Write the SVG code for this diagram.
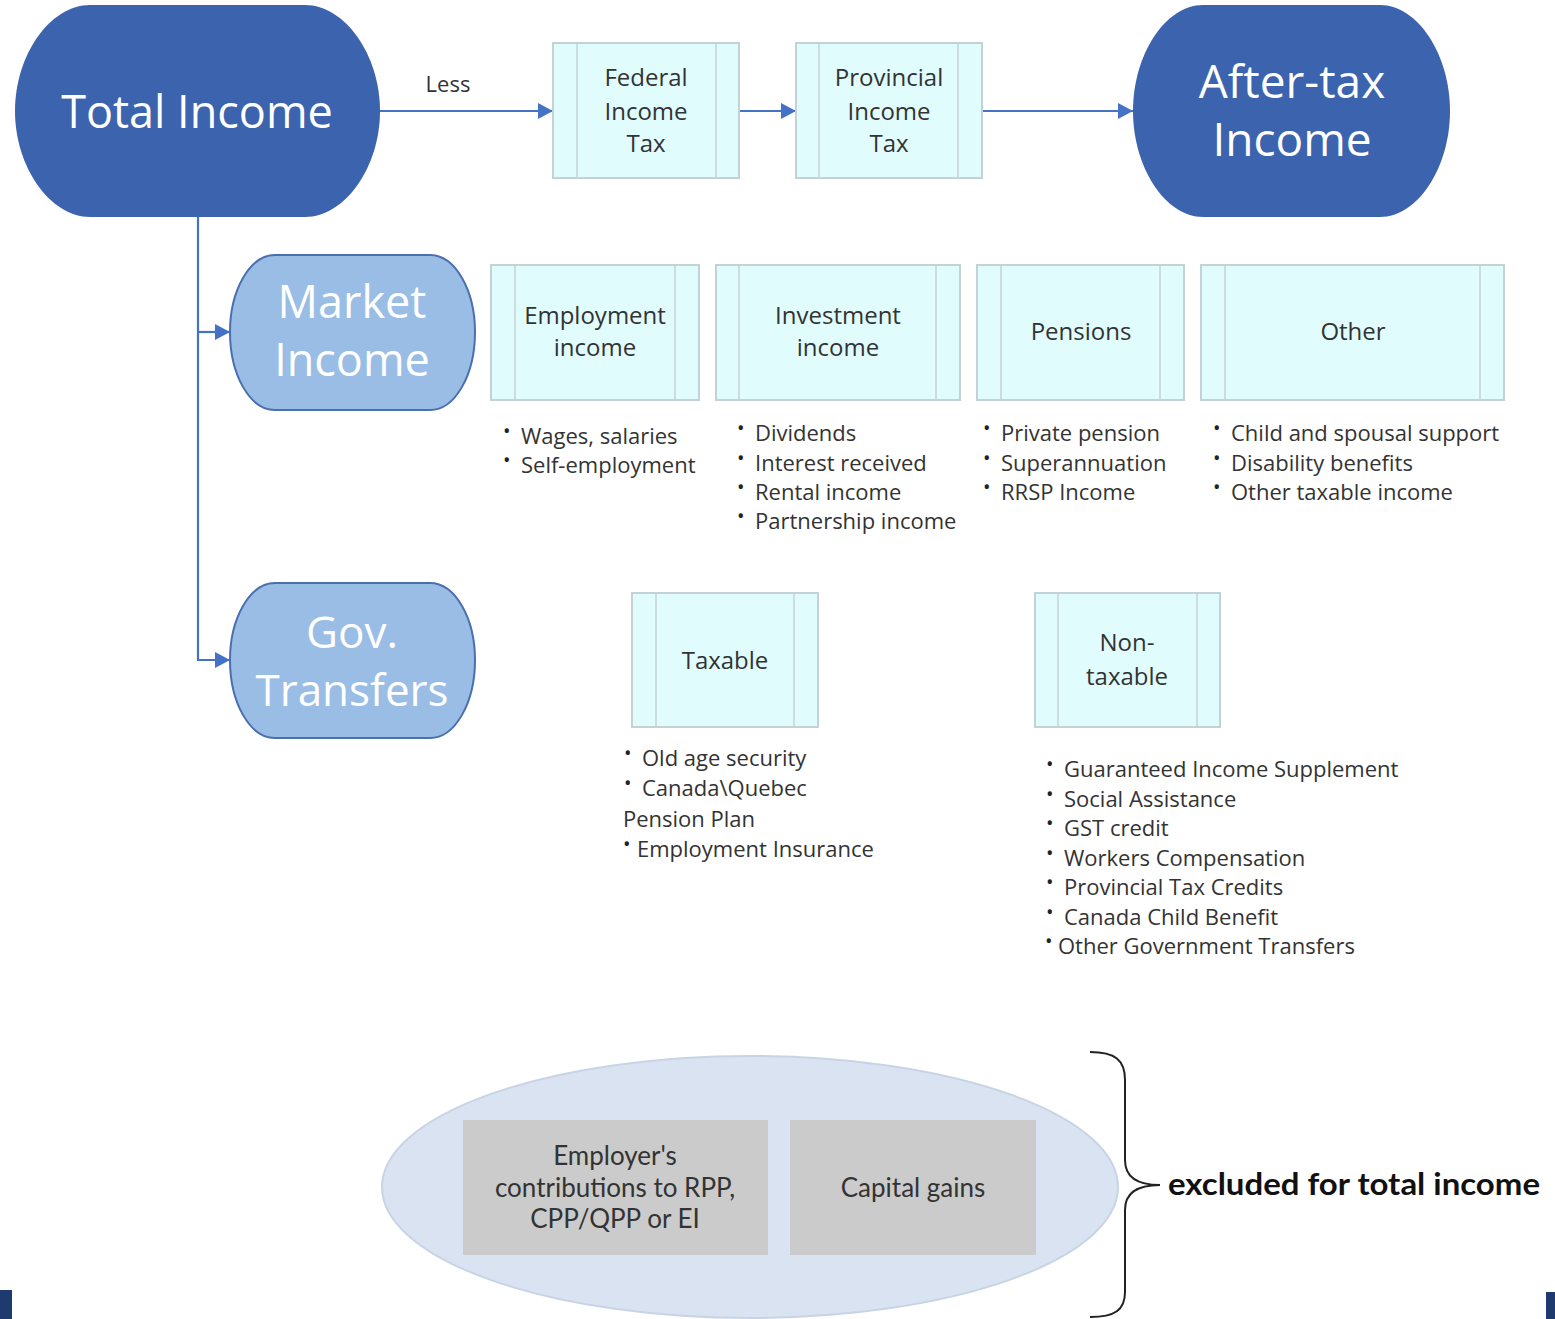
<svg xmlns="http://www.w3.org/2000/svg" width="1555" height="1319" viewBox="0 0 1555 1319">
<style>
.dark{fill:#3c63ad}
.light{fill:#9abde5;stroke:#4a6faf;stroke-width:2}
.big{font-family:"Open Sans","Noto Sans",sans-serif;fill:#fff;text-anchor:middle}
.box rect{fill:#e1fcfd;stroke:#c4d2d5;stroke-width:2}
.box line{stroke:#c4d2d5;stroke-width:1.5}
.bt{font-family:"Open Sans","Noto Sans",sans-serif;font-size:24px;fill:#333;text-anchor:middle}
.li{font-family:"Open Sans","Noto Sans",sans-serif;font-size:22px;fill:#333}
.b{font-size:20px;fill:#222}
.conn{stroke:#4472c4;stroke-width:2.2;fill:none}
.grey rect{fill:#cbcbcb}
.gt{font-family:Lato,"Liberation Sans",sans-serif;font-size:26px;fill:#333;text-anchor:middle}
</style>
<defs>
<marker id="ah" markerUnits="userSpaceOnUse" markerWidth="15" markerHeight="16" refX="15" refY="8" orient="auto">
<path d="M0,0 L15,8 L0,16 Z" fill="#4472c4"/>
</marker>
</defs>
<rect width="1555" height="1319" fill="#fff"/>

<g id="connectors">
<path class="conn" d="M380,111 H553" marker-end="url(#ah)"/>
<path class="conn" d="M739,111 H796" marker-end="url(#ah)"/>
<path class="conn" d="M982,111 H1133" marker-end="url(#ah)"/>
<path class="conn" d="M198,217 V660 H230" marker-end="url(#ah)"/>
<path class="conn" d="M198,332 H230" marker-end="url(#ah)"/>
<text class="li" x="448" y="92" text-anchor="middle">Less</text>
</g>

<g id="total-income">
<path class="dark" d="M90,5 H305 C345,5 380,55 380,111 C380,167 345,217 305,217 H90 C50,217 15,167 15,111 C15,55 50,5 90,5 Z"/>
<text class="big" x="197" y="128" font-size="45">Total Income</text>
</g>

<g id="federal" class="box">
<rect x="553" y="43" width="186" height="135"/>
<line x1="577" y1="43" x2="577" y2="178"/><line x1="716" y1="43" x2="716" y2="178"/>
<text class="bt" x="646" y="86">Federal</text>
<text class="bt" x="646" y="120">Income</text>
<text class="bt" x="646" y="152">Tax</text>
</g>

<g id="provincial" class="box">
<rect x="796" y="43" width="186" height="135"/>
<line x1="819" y1="43" x2="819" y2="178"/><line x1="958" y1="43" x2="958" y2="178"/>
<text class="bt" x="889" y="86">Provincial</text>
<text class="bt" x="889" y="120">Income</text>
<text class="bt" x="889" y="152">Tax</text>
</g>

<g id="after-tax">
<path class="dark" d="M1203,5 H1380 C1418,5 1450,55 1450,111 C1450,167 1418,217 1380,217 H1203 C1165,217 1133,167 1133,111 C1133,55 1165,5 1203,5 Z"/>
<text class="big" x="1292" y="98" font-size="46">After-tax</text>
<text class="big" x="1292" y="156" font-size="46">Income</text>
</g>

<g id="market-income">
<path class="light" d="M275,255 H430 C455,255 475,290 475,332 C475,375 455,410 430,410 H275 C250,410 230,375 230,332 C230,290 250,255 275,255 Z"/>
<text class="big" x="352" y="318" font-size="45">Market</text>
<text class="big" x="352" y="376" font-size="45">Income</text>
</g>

<g id="employment" class="box">
<rect x="491" y="265" width="208" height="135"/>
<line x1="515" y1="265" x2="515" y2="400"/><line x1="675" y1="265" x2="675" y2="400"/>
<text class="bt" x="595" y="324">Employment</text>
<text class="bt" x="595" y="356">income</text>
</g>
<g id="employment-list">
<text class="li"><tspan class="b" x="503" y="438">•</tspan><tspan x="521" y="444">Wages, salaries</tspan></text>
<text class="li"><tspan class="b" x="503" y="467">•</tspan><tspan x="521" y="473">Self-employment</tspan></text>
</g>

<g id="investment" class="box">
<rect x="716" y="265" width="244" height="135"/>
<line x1="739" y1="265" x2="739" y2="400"/><line x1="936" y1="265" x2="936" y2="400"/>
<text class="bt" x="838" y="324">Investment</text>
<text class="bt" x="838" y="356">income</text>
</g>
<g id="investment-list">
<text class="li"><tspan class="b" x="737" y="435">•</tspan><tspan x="755" y="441">Dividends</tspan></text>
<text class="li"><tspan class="b" x="737" y="465">•</tspan><tspan x="755" y="471">Interest received</tspan></text>
<text class="li"><tspan class="b" x="737" y="494">•</tspan><tspan x="755" y="500">Rental income</tspan></text>
<text class="li"><tspan class="b" x="737" y="523">•</tspan><tspan x="755" y="529">Partnership income</tspan></text>
</g>

<g id="pensions" class="box">
<rect x="977" y="265" width="207" height="135"/>
<line x1="1001" y1="265" x2="1001" y2="400"/><line x1="1160" y1="265" x2="1160" y2="400"/>
<text class="bt" x="1081" y="340">Pensions</text>
</g>
<g id="pensions-list">
<text class="li"><tspan class="b" x="983" y="435">•</tspan><tspan x="1001" y="441">Private pension</tspan></text>
<text class="li"><tspan class="b" x="983" y="465">•</tspan><tspan x="1001" y="471">Superannuation</tspan></text>
<text class="li"><tspan class="b" x="983" y="494">•</tspan><tspan x="1001" y="500">RRSP Income</tspan></text>
</g>

<g id="other" class="box">
<rect x="1201" y="265" width="303" height="135"/>
<line x1="1225" y1="265" x2="1225" y2="400"/><line x1="1480" y1="265" x2="1480" y2="400"/>
<text class="bt" x="1353" y="340">Other</text>
</g>
<g id="other-list">
<text class="li"><tspan class="b" x="1213" y="435">•</tspan><tspan x="1231" y="441">Child and spousal support</tspan></text>
<text class="li"><tspan class="b" x="1213" y="465">•</tspan><tspan x="1231" y="471">Disability benefits</tspan></text>
<text class="li"><tspan class="b" x="1213" y="494">•</tspan><tspan x="1231" y="500">Other taxable income</tspan></text>
</g>

<g id="gov-transfers">
<path class="light" d="M275,583 H430 C455,583 475,618 475,660 C475,703 455,738 430,738 H275 C250,738 230,703 230,660 C230,618 250,583 275,583 Z"/>
<text class="big" x="352" y="648" font-size="44">Gov.</text>
<text class="big" x="352" y="706" font-size="44">Transfers</text>
</g>

<g id="taxable" class="box">
<rect x="632" y="593" width="186" height="134"/>
<line x1="656" y1="593" x2="656" y2="727"/><line x1="794" y1="593" x2="794" y2="727"/>
<text class="bt" x="725" y="669">Taxable</text>
</g>
<g id="taxable-list">
<text class="li"><tspan class="b" x="624" y="760">•</tspan><tspan x="642" y="766">Old age security</tspan></text>
<text class="li"><tspan class="b" x="624" y="790">•</tspan><tspan x="642" y="796">Canada\Quebec</tspan></text>
<text class="li" x="623" y="827">Pension Plan</text>
<text class="li"><tspan class="b" x="623" y="851">•</tspan><tspan x="637" y="857">Employment Insurance</tspan></text>
</g>

<g id="non-taxable" class="box">
<rect x="1035" y="593" width="185" height="134"/>
<line x1="1058" y1="593" x2="1058" y2="727"/><line x1="1197" y1="593" x2="1197" y2="727"/>
<text class="bt" x="1127" y="651">Non-</text>
<text class="bt" x="1127" y="685">taxable</text>
</g>
<g id="non-taxable-list">
<text class="li"><tspan class="b" x="1046" y="771">•</tspan><tspan x="1064" y="777">Guaranteed Income Supplement</tspan></text>
<text class="li"><tspan class="b" x="1046" y="801">•</tspan><tspan x="1064" y="807">Social Assistance</tspan></text>
<text class="li"><tspan class="b" x="1046" y="830">•</tspan><tspan x="1064" y="836">GST credit</tspan></text>
<text class="li"><tspan class="b" x="1046" y="860">•</tspan><tspan x="1064" y="866">Workers Compensation</tspan></text>
<text class="li"><tspan class="b" x="1046" y="889">•</tspan><tspan x="1064" y="895">Provincial Tax Credits</tspan></text>
<text class="li"><tspan class="b" x="1046" y="919">•</tspan><tspan x="1064" y="925">Canada Child Benefit</tspan></text>
<text class="li"><tspan class="b" x="1045" y="948">•</tspan><tspan x="1058" y="954">Other Government Transfers</tspan></text>
</g>

<g id="excluded-group">
<ellipse cx="750" cy="1187" rx="368" ry="131" fill="#dae3f1" stroke="#c8d4e6" stroke-width="2"/>
</g>
<g id="employer-contrib" class="grey">
<rect x="463" y="1120" width="305" height="135"/>
<text class="gt" x="615" y="1165">Employer's</text>
<text class="gt" x="615" y="1197">contributions to RPP,</text>
<text class="gt" x="615" y="1228">CPP/QPP or EI</text>
</g>
<g id="capital-gains" class="grey">
<rect x="790" y="1120" width="246" height="135"/>
<text class="gt" x="913" y="1197">Capital gains</text>
</g>

<g id="brace">
<path d="M1090,1052 C1115,1052 1125,1060 1125,1080 V1160 C1125,1178 1138,1185 1160,1185 C1138,1185 1125,1192 1125,1210 V1292 C1125,1310 1115,1317 1090,1317" fill="none" stroke="#222" stroke-width="2"/>
<text x="1168" y="1195" font-family="Lato,'Liberation Sans',sans-serif" font-weight="700" font-size="30" fill="#111" textLength="372" lengthAdjust="spacingAndGlyphs">excluded for total income</text>
</g>

<rect x="0" y="1290" width="12" height="29" fill="#1f3a6e"/>
<rect x="1546" y="1292" width="9" height="27" fill="#1f3a6e"/>
</svg>
